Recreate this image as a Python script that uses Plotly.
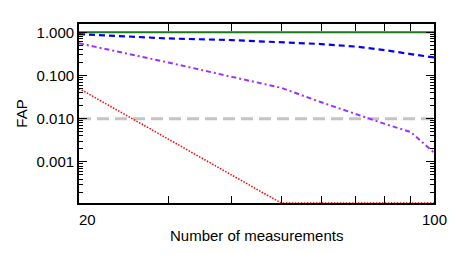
import plotly.graph_objects as go
import numpy as np

N = [20, 30, 40, 50, 60, 70, 80, 90, 100]
fap_green = [1.0, 1.0, 1.0, 1.0, 1.0, 1.0, 1.0, 1.0, 1.0]
fap_blue = [0.91, 0.72, 0.66, 0.586, 0.535, 0.468, 0.388, 0.313, 0.262]
fap_purple = [0.555, 0.2, 0.093, 0.052, 0.024, 0.0128, 0.0076, 0.0049, 0.00165]
fap_red = [0.05, 0.0034, 0.0005, 0.000112, 0.000112, 0.000112, 0.000112, 0.000112, 0.000112]
threshold = [0.01] * len(N)

y_tickvals = [1.0, 0.1, 0.01, 0.001]
y_ticktext = ["1.000", "0.100", "0.010", "0.001"]
x_tickvals = [20, 30, 40, 50, 60, 70, 80, 90, 100]

FONT = "Liberation Sans, Arial, sans-serif"

fig = go.Figure()
fig.add_trace(go.Scatter(x=N, y=threshold, mode="lines",
                         line=dict(color="#c4c4c4", width=3, dash="12px,6px")))
fig.add_trace(go.Scatter(x=N, y=fap_red, mode="lines",
                         line=dict(color="#ff0000", width=1.5, dash="1.5px,1.5px")))
fig.add_trace(go.Scatter(x=N, y=fap_purple, mode="lines",
                         line=dict(color="#9b30ff", width=2, dash="5px,3px,2px,3px")))
fig.add_trace(go.Scatter(x=N, y=fap_blue, mode="lines",
                         line=dict(color="#0000ff", width=2.2, dash="6px,4px")))
fig.add_trace(go.Scatter(x=N, y=fap_green, mode="lines",
                         line=dict(color="#1a7a1a", width=2)))

minor_y = []
for d in [-4, -3, -2, -1, 0]:
    for m in range(2, 10):
        minor_y.append(m * 10.0 ** d)

# page body has an 8px margin, so the figure is made 8px smaller and margins shifted
fig.update_layout(
    template="none",
    width=450, height=246,
    margin=dict(l=71, r=23.5, t=16, b=51),
    paper_bgcolor="white", plot_bgcolor="white",
    showlegend=False,
    font=dict(family=FONT, size=15, color="black"),
    xaxis=dict(type="log", range=[np.log10(20), np.log10(100)], automargin=False,
               tickvals=x_tickvals, ticktext=[""] * len(x_tickvals),
               ticks="inside", ticklen=7, tickwidth=1.2, tickcolor="black",
               showline=True, linecolor="black", linewidth=1.8, mirror="ticks",
               showgrid=False, zeroline=False),
    yaxis=dict(type="log", range=[-3.95, 0.192], automargin=False,
               tickvals=y_tickvals, ticktext=y_ticktext,
               ticks="inside", ticklen=8, tickwidth=1.2, tickcolor="black",
               showline=True, linecolor="black", linewidth=1.8, mirror="ticks",
               showgrid=False, zeroline=False,
               minor=dict(tickvals=minor_y, ticks="inside", ticklen=4,
                          tickwidth=1, tickcolor="black", showgrid=False),
               title=dict(text="FAP", standoff=5, font=dict(size=15))),
)

fig.add_annotation(x=np.log10(20), y=0, xref="x", yref="paper", text="20",
                   showarrow=False, xanchor="left", yanchor="top", yshift=-6,
                   font=dict(size=15), xshift=-2)
fig.add_annotation(x=np.log10(100), y=0, xref="x", yref="paper", text="100",
                   showarrow=False, xanchor="center", yanchor="top", yshift=-6,
                   font=dict(size=15))
fig.add_annotation(x=0.5, y=0, xref="paper", yref="paper", text="Number of measurements",
                   showarrow=False, xanchor="center", yanchor="top", yshift=-22,
                   font=dict(size=15))

fig.write_html("out.html")
